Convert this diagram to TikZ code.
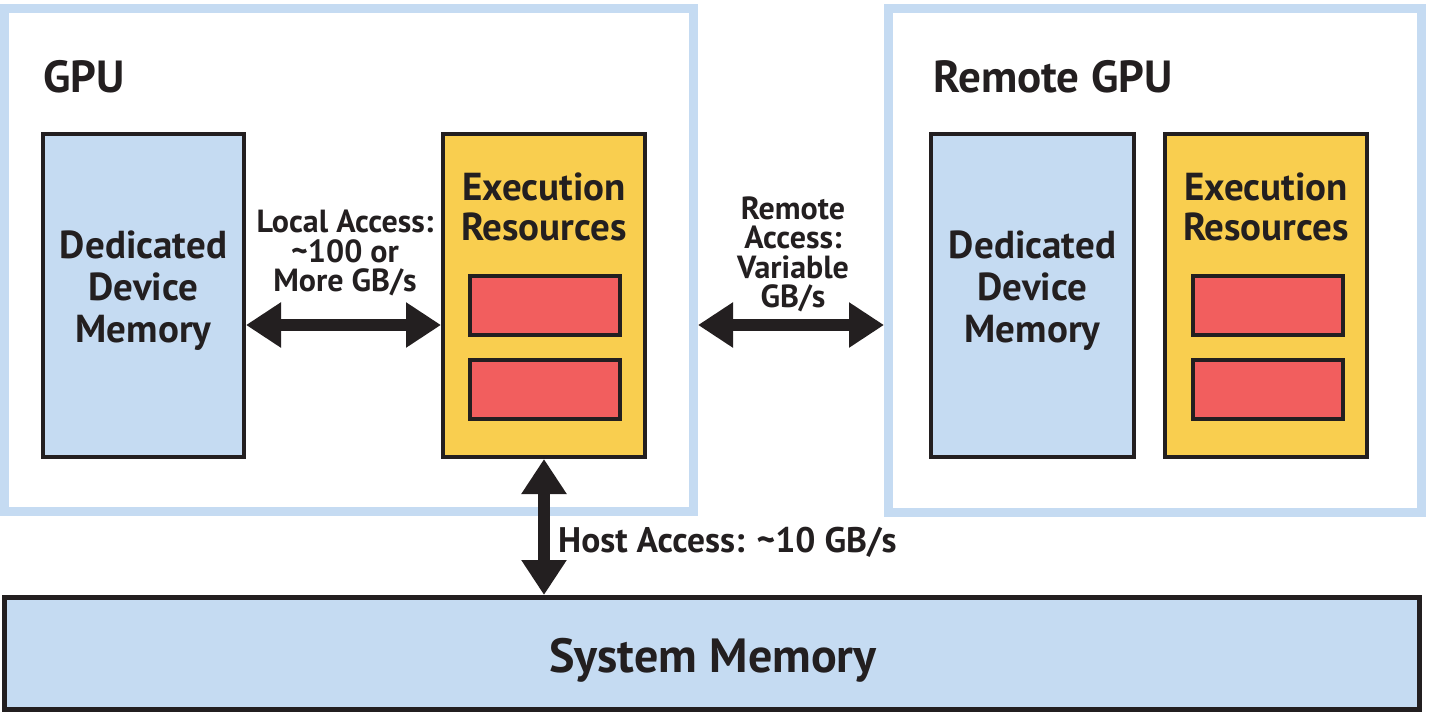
\documentclass[tikz,border=0pt]{standalone}
\usepackage{fontspec}
\setmainfont{PT Sans}
\usetikzlibrary{arrows.meta}
\definecolor{lblue}{HTML}{C5DBF2}
\definecolor{myyellow}{HTML}{F9CE4F}
\definecolor{myred}{HTML}{F25E5E}
\definecolor{myblack}{HTML}{231F20}
\tikzset{
  gpubox/.style={draw=lblue, line width=9pt, fill=white, inner sep=0pt},
  membox/.style={draw=myblack, line width=4pt, fill=lblue, inner sep=0pt},
  exbox/.style={draw=myblack, line width=4pt, fill=myyellow, inner sep=0pt},
  unitbox/.style={draw=myblack, line width=4pt, fill=myred, inner sep=0pt, minimum width=150pt, minimum height=59pt},
  bigtxt/.style={font=\fontsize{39}{42}\selectfont\bfseries, text=myblack, align=center, inner sep=0pt},
  extxt/.style={font=\fontsize{39}{40}\selectfont\bfseries, text=myblack, align=center, inner sep=0pt},
  titletxt/.style={font=\fontsize{45}{48}\selectfont\bfseries, text=myblack, inner sep=0pt},
  smalltxt/.style={font=\fontsize{32}{29.5}\selectfont\bfseries, text=myblack, align=center, inner sep=0pt},
  sysbox/.style={draw=myblack, line width=5pt, fill=lblue, inner sep=0pt},
  dblarrow/.style={line width=12pt, draw=myblack, {Triangle[length=35pt,width=43pt]}-{Triangle[length=35pt,width=43pt]}},
}
\begin{document}
\begin{tikzpicture}[x=1pt,y=-1pt]
\useasboundingbox (0,0) rectangle (1429,713);
% GPU containers
\node[gpubox, minimum width=689.5pt, minimum height=503.5pt] (gpu) at (348.75,259.75) {};
\node[gpubox, minimum width=533pt, minimum height=504pt] (rgpu) at (1155,260) {};
\node[titletxt, anchor=base west] (gpulbl) at (43,92) {GPU};
\node[titletxt, anchor=base west] (rgpulbl) at (933,92) {Remote GPU};
% local GPU
\node[membox, minimum width=201pt, minimum height=323pt] (ded) at (143.5,295.5) {};
\node[bigtxt] (dedtxt) at (143.5,291) {Dedicated\\Device\\Memory};
\node[exbox, minimum width=202pt, minimum height=323pt] (exec) at (544,295.5) {};
\node[extxt] (exectxt) at (544,207) {Execution\\Resources};
\node[unitbox] (u1) at (545,305.5) {};
\node[unitbox] (u2) at (545,389.5) {};
% remote GPU
\node[membox, minimum width=203pt, minimum height=323pt] (rded) at (1032.5,295.5) {};
\node[bigtxt] (rdedtxt) at (1032.5,291) {Dedicated\\Device\\Memory};
\node[exbox, minimum width=202pt, minimum height=323pt] (rexec) at (1266,295.5) {};
\node[extxt] (rexectxt) at (1266,207) {Execution\\Resources};
\node[unitbox] (r1) at (1268,305.5) {};
\node[unitbox] (r2) at (1268,389.5) {};
% system memory
\node[sysbox, minimum width=1415pt, minimum height=112pt] (sys) at (712,653.5) {};
\node[font=\fontsize{48}{52}\selectfont\bfseries, text=myblack, inner sep=0pt, anchor=base] (systxt) at (713,672) {System Memory};
% arrows
\coordinate (lvl) at (0,325);
\draw[dblarrow] (ded.east |- lvl) -- (exec.west |- lvl);
\draw[dblarrow] (gpu.east |- lvl) -- (rgpu.west |- lvl);
\draw[dblarrow] (exec.south) -- (exec.south |- sys.north);
% labels
\node[smalltxt] (loclbl) at (345,253) {Local Access:\\\textasciitilde100 or\\More GB/s};
\node[smalltxt] (remlbl) at (793,254.5) {Remote\\Access:\\Variable\\GB/s};
\node[font=\fontsize{35.5}{38}\selectfont\bfseries, text=myblack, inner sep=0pt, anchor=base west] (hostlbl) at (558,552) {Host Access: \textasciitilde10 GB/s};
\end{tikzpicture}
\end{document}
